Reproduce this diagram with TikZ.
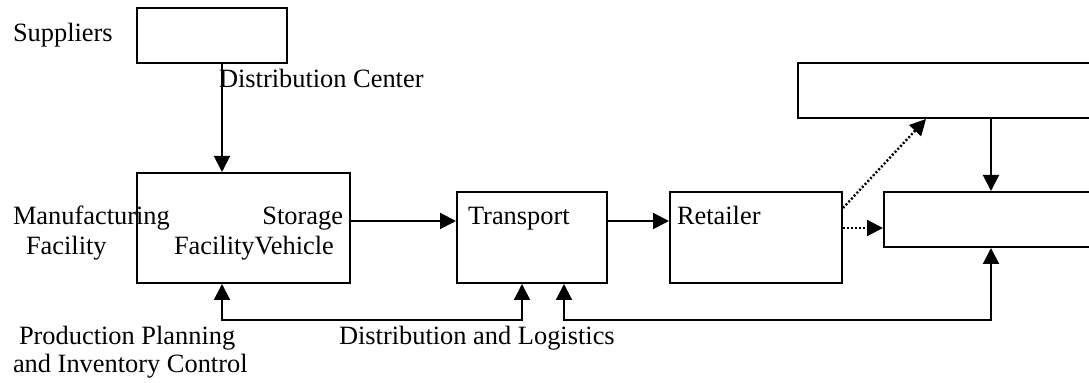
\documentclass[tikz,border=0pt]{standalone}
\usepackage{fontspec}
\setmainfont{Liberation Serif}
\usetikzlibrary{arrows.meta}

\begin{document}
\begin{tikzpicture}[x=0.5pt, y=-0.5pt, line width=1pt,
		font=\fontsize{13.2}{15}\selectfont,
		box/.style={draw, inner sep=0pt},
		lbl/.style={anchor=base west, inner sep=0pt},
		arr/.style={-{Triangle[length=8pt,width=8pt]}},
		arrs/.style={{Triangle[length=8pt,width=8pt]}-{Triangle[length=8pt,width=8pt]}},
		dots/.style={arr, line width=1.2pt, dash pattern=on 1pt off 1pt}]
		\useasboundingbox (0,0) rectangle (1089,383);

		\node[box, minimum width=75pt, minimum height=27.5pt] (sup) at (212,35.5) {};
		\node[box, minimum width=106.5pt, minimum height=55pt] (mfg) at (243.5,228) {};
		\node[box, minimum width=75pt, minimum height=45.5pt] (trans) at (532,237.5) {};
		\node[box, minimum width=86pt, minimum height=45.5pt] (ret) at (756,237.5) {};
		\node[box, minimum width=161pt, minimum height=27.5pt] (top) at (959,90.5) {};
		\node[box, minimum width=118pt, minimum height=27.5pt] (cust) at (1002,219.5) {};

		\node[lbl] (tsup) at (12,42) {Suppliers};
		\node[lbl] (tdc) at (218,88) {Distribution Center};
		\node[lbl] (tmfg) at (12,225) {Manufacturing};
		\node[lbl] (tmfg2) at (25,255) {Facility};
		\node[lbl, anchor=base east] (tsto) at (344,225) {Storage};
		\node[lbl] (tveh) at (173,255) {FacilityVehicle};
		\node[lbl] (ttr) at (467,225) {Transport};
		\node[lbl] (tret) at (676,225) {Retailer};
		\node[lbl] (tppc) at (18,345) {Production Planning};
		\node[lbl] (tppc2) at (12,373) {and Inventory Control};
		\node[lbl] (tdl) at (338,345) {Distribution and Logistics};

		\coordinate (fa) at (222,320);
		\coordinate (fb) at (522,320);
		\coordinate (fc) at (564,320);
		\coordinate (fd) at (991,320);

		\draw[arr] ([xshift=5pt]sup.south) -- ([xshift=5pt]sup.south |- mfg.north);
		\draw[arr] ([yshift=3.5pt]mfg.east) -- ([yshift=3.5pt]mfg.east -| trans.west);
		\draw[arr] ([yshift=8.25pt]trans.east) -- ([yshift=8.25pt]trans.east -| ret.west);
		\draw[dots] ([yshift=14.75pt]ret.east) -- ([xshift=-16.5pt]top.south);
		\draw[dots] ([yshift=4.75pt]ret.east) -- ([yshift=4.75pt]ret.east -| cust.west);
		\draw[arr] ([xshift=16pt]top.south) -- ([xshift=16pt]top.south |- cust.north);
		\draw[arrs] (fa |- mfg.south) -- (fa) -- (fb) -- (fb |- trans.south);
		\draw[arrs] (fc |- trans.south) -- (fc) -- (fd) -- (fd |- cust.south);
	\end{tikzpicture}
\end{document}
